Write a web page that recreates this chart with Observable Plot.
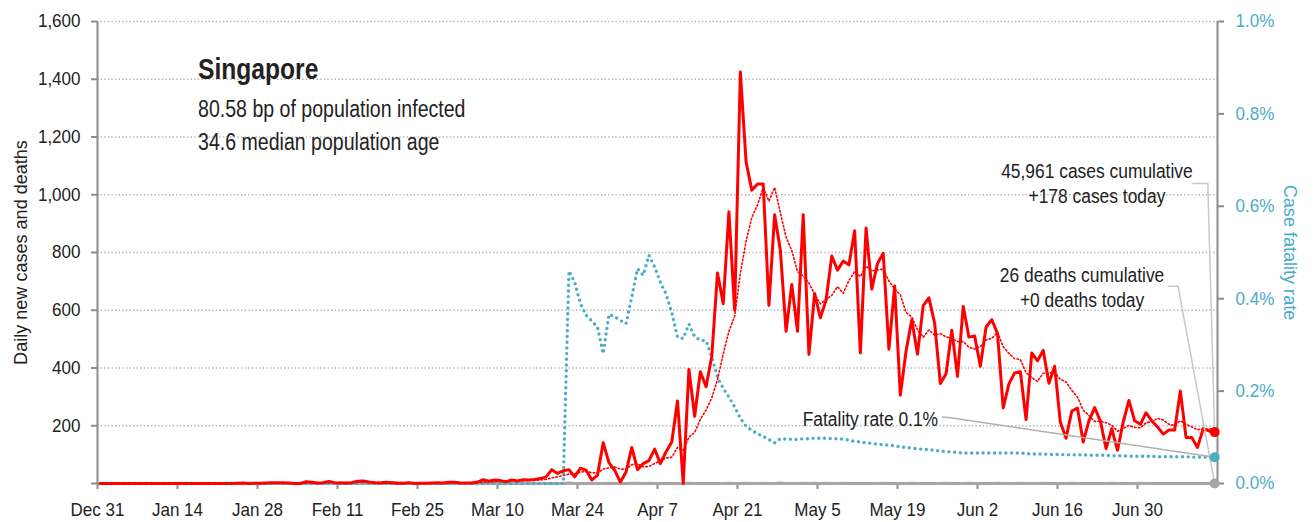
<!DOCTYPE html>
<html>
<head>
<meta charset="utf-8">
<script src="https://cdn.jsdelivr.net/npm/d3@7"></script>
<script src="https://cdn.jsdelivr.net/npm/@observablehq/plot@0.6"></script>
<style>
  html, body { margin: 0; padding: 0; background: #fff; }
  svg { display: block; }
</style>
</head>
<body>
<div id="chart"></div>
<script>
// ---------- data ----------
const country = "Singapore";
const infectedBp = 80.58;
const medianAge = 34.6;
const totalCases = 45961;
const totalDeaths = 26;

const startDate = "2019-12-31";
const endDate = "2020-07-14";
const tickDates = ["2019-12-31","2020-01-14","2020-01-28","2020-02-11","2020-02-25","2020-03-10","2020-03-24",
                   "2020-04-07","2020-04-21","2020-05-05","2020-05-19","2020-06-02","2020-06-16","2020-06-30"];
const leftTicks = [0, 200, 400, 600, 800, 1000, 1200, 1400, 1600];
const rightTicks = [0, 0.2, 0.4, 0.6, 0.8, 1.0]; // percent

const yLabel = "Daily new cases and deaths";
const y2Label = "Case fatality rate";

// daily new cases, one per day from Dec 31
const dailyCases = [
  0,0,0,0,0,0,0,0,0,0,
  0,0,0,0,0,0,0,0,0,0,
  0,0,0,0,1,2,0,1,1,2,
  3,3,3,2,0,0,6,4,2,3,
  7,3,2,2,3,8,9,5,3,2,
  4,3,1,1,3,0,1,1,2,3,
  2,4,4,2,2,2,5,13,8,12,
  10,6,12,9,13,12,14,17,23,48,
  35,44,48,23,53,46,12,29,141,72,
  46,5,40,125,48,69,79,119,69,110,
  144,286,0,395,233,387,335,441,729,623,
  941,600,1425,1114,1016,1037,1037,617,931,808,
  527,689,527,931,447,658,574,635,788,739,
  770,758,875,452,885,673,762,797,465,684,
  306,459,567,448,616,643,555,346,380,531,
  371,613,507,511,406,542,567,520,262,345,
  383,387,221,452,425,461,347,406,212,157,
  251,261,144,217,263,217,121,190,115,213,
  288,217,205,245,217,196,171,185,185,320,
  159,159,125,190,182,178
];

// daily new deaths
const dailyDeaths = [
  0,0,0,0,0,0,0,0,0,0,
  0,0,0,0,0,0,0,0,0,0,
  0,0,0,0,0,0,0,0,0,0,
  0,0,0,0,0,0,0,0,0,0,
  0,0,0,0,0,0,0,0,0,0,
  0,0,0,0,0,0,0,0,0,0,
  0,0,0,0,0,0,0,0,0,0,
  0,0,0,0,0,0,0,0,0,0,
  0,0,2,0,0,0,0,0,0,1,
  0,0,0,1,1,0,1,0,0,0,
  0,0,0,1,0,0,0,0,0,0,
  1,0,0,1,0,0,1,0,0,2,
  0,0,0,1,0,1,0,1,0,0,
  1,0,0,0,0,0,0,1,0,0,
  0,0,1,0,0,0,0,0,1,0,
  0,0,1,0,0,0,0,1,0,0,
  0,1,0,0,0,1,0,0,0,0,
  1,0,0,0,0,0,0,1,0,0,
  0,0,1,0,0,0,0,0,0,0,
  0,0,0,0,0,0
];

// case fatality rate, percent
const fatalityRate = [
  0,0,0,0,0,0,0,0,0,0,
  0,0,0,0,0,0,0,0,0,0,
  0,0,0,0,0,0,0,0,0,0,
  0,0,0,0,0,0,0,0,0,0,
  0,0,0,0,0,0,0,0,0,0,
  0,0,0,0,0,0,0,0,0,0,
  0,0,0,0,0,0,0,0,0,0,
  0,0,0,0,0,0,0,0,0,0,
  0,0,0.460,0.436,0.390,0.364,0.352,0.338,0.281,0.366,
  0.361,0.353,0.346,0.404,0.465,0.451,0.494,0.469,0.436,0.410,
  0.370,0.317,0.314,0.345,0.318,0.310,0.309,0.274,0.230,0.206,
  0.187,0.166,0.141,0.124,0.115,0.108,0.102,0.095,0.088,0.097,
  0.096,0.096,0.095,0.097,0.097,0.098,0.098,0.098,0.097,0.097,
  0.096,0.094,0.091,0.090,0.088,0.087,0.085,0.084,0.083,0.082,
  0.079,0.078,0.077,0.075,0.074,0.073,0.072,0.070,0.069,0.068,
  0.067,0.066,0.066,0.066,0.066,0.066,0.066,0.066,0.066,0.066,
  0.066,0.066,0.065,0.064,0.064,0.064,0.063,0.063,0.063,0.062,
  0.062,0.062,0.062,0.061,0.061,0.061,0.061,0.060,0.060,0.060,
  0.059,0.059,0.059,0.059,0.059,0.058,0.058,0.058,0.058,0.058,
  0.058,0.057,0.057,0.057,0.057,0.057
];

// ---------- build ----------
const RED = "#ff0000", TEAL = "#4bacc6", GRAY = "#a6a6a6", AXIS = "#8c8c8c", LEADER = "#c8c8c8", INK = "#222";
const FONT = `"Liberation Sans", Arial, sans-serif`;
const cfrScale = 1600 / 1.0; // 1.0% on the right axis == 1,600 on the left axis

// type sizes, and how much each is condensed horizontally
const SIZE_TICK = 18.5, SIZE_AXIS = 19, SIZE_TITLE = 30, SIZE_SUB = 23, SIZE_NOTE = 20;
const squeeze = { [SIZE_TICK]: 0.92, [SIZE_AXIS]: 0.95, [SIZE_TITLE]: 0.82, [SIZE_SUB]: 0.85, [SIZE_NOTE]: 0.87 };

const t0 = Date.UTC(2019, 11, 31);
const day = n => new Date(t0 + n * 864e5);
const rows = dailyCases.map((c, i) => ({
  date: new Date(Date.UTC(2019, 11, 31 + i, 12)),
  cases: c,
  deaths: dailyDeaths[i],
  cfr: fatalityRate[i]
}));
const last = rows[rows.length - 1];
const lastCfrY = last.cfr * cfrScale;

const casesNote = `${d3.format(",")(totalCases)} cases cumulative\n+${last.cases} cases today`;
const deathsNote = `${totalDeaths} deaths cumulative\n+${last.deaths} deaths today`;
const cfrNote = `Fatality rate ${last.cfr.toFixed(1)}%`;

const chart = Plot.plot({
  width: 1314,
  height: 522,
  marginLeft: 97,
  marginRight: 97,
  marginTop: 21,
  marginBottom: 39,
  style: { fontFamily: FONT, fontSize: SIZE_TICK + "px", color: INK, background: "#fff" },
  x: { type: "utc", domain: [new Date(startDate), new Date(endDate)] },
  y: { domain: [0, 1600] },
  marks: [
    // gridlines
    Plot.ruleY(leftTicks.filter(d => d > 0), { stroke: "#b4b4b4", strokeWidth: 1.3, strokeDasharray: "1.4 2.2" }),
    // axes
    Plot.axisX(tickDates.map(d => new Date(d)), {
      tickFormat: d3.utcFormat("%b %-d"), tickSize: 6, tickPadding: 13,
      stroke: AXIS, strokeWidth: 2, fill: INK, fontSize: SIZE_TICK, label: null
    }),
    Plot.axisY(leftTicks, {
      anchor: "left", tickSize: 6, tickPadding: 11,
      tickFormat: d => d === 0 ? "" : d3.format(",")(d),
      stroke: AXIS, strokeWidth: 2, fill: INK, fontSize: SIZE_TICK, label: null
    }),
    Plot.axisY(rightTicks.map(d => d * cfrScale), {
      anchor: "right", tickSize: 6, tickPadding: 12,
      tickFormat: d => (d / cfrScale).toFixed(1) + "%",
      stroke: AXIS, strokeWidth: 2, fill: TEAL, fontSize: SIZE_TICK, label: null
    }),
    Plot.ruleX([new Date(startDate)], { stroke: AXIS, strokeWidth: 2 }),
    Plot.ruleX([new Date(endDate)], { stroke: AXIS, strokeWidth: 2 }),
    Plot.ruleY([0], { stroke: AXIS, strokeWidth: 2 }),
    // axis titles
    Plot.text([yLabel], { frameAnchor: "left", dx: -77, rotate: -90, text: d => d,
      textAnchor: "middle", lineAnchor: "middle", fontSize: SIZE_AXIS, fill: INK }),
    Plot.text([y2Label], { frameAnchor: "right", dx: 73, rotate: 90, text: d => d,
      textAnchor: "middle", lineAnchor: "middle", fontSize: SIZE_AXIS, fill: TEAL }),
    // series
    Plot.lineY(rows, { x: "date", y: "deaths", stroke: GRAY, strokeWidth: 3 }),
    Plot.lineY(rows, { x: "date", y: d => d.cfr * cfrScale, stroke: TEAL, strokeWidth: 3.4,
      strokeDasharray: "0 5.7", strokeLinecap: "round" }),
    Plot.lineY(rows, Plot.windowY({ k: 7, anchor: "end", reduce: "mean" },
      { x: "date", y: "cases", stroke: RED, strokeWidth: 1.6, strokeDasharray: "1.5 2.3" })),
    Plot.lineY(rows, { x: "date", y: "cases", stroke: RED, strokeWidth: 3, strokeLinejoin: "round" }),
    // leader lines
    Plot.line([{ x: day(191.7), y: 1039 }, { x: day(194.3), y: 1039 }, { x: last.date, y: last.cases }],
      { x: "x", y: "y", stroke: LEADER, strokeWidth: 1.5 }),
    Plot.line([{ x: day(187.5), y: 683 }, { x: day(189.1), y: 683 }, { x: last.date, y: last.deaths }],
      { x: "x", y: "y", stroke: LEADER, strokeWidth: 1.5 }),
    Plot.line([{ x: day(147.9), y: 230 }, { x: day(149.6), y: 227 }, { x: last.date, y: lastCfrY }],
      { x: "x", y: "y", stroke: "#b0b0b0", strokeWidth: 1.5 }),
    // end markers
    Plot.dot([last], { x: "date", y: "deaths", r: 5, fill: GRAY }),
    Plot.dot([last], { x: "date", y: d => d.cfr * cfrScale, r: 5, fill: TEAL }),
    Plot.dot([last], { x: "date", y: "cases", r: 5, fill: RED }),
    // annotations
    Plot.text([{ x: day(17.6), y: 1402, t: country }], { x: "x", y: "y", text: "t",
      textAnchor: "start", lineAnchor: "bottom", fontSize: SIZE_TITLE, fontWeight: "bold", fill: INK }),
    Plot.text([{ x: day(17.6), y: 1270, t: `${infectedBp} bp of population infected` }], { x: "x", y: "y", text: "t",
      textAnchor: "start", lineAnchor: "bottom", fontSize: SIZE_SUB, fill: INK }),
    Plot.text([{ x: day(17.6), y: 1154, t: `${medianAge} median population age` }], { x: "x", y: "y", text: "t",
      textAnchor: "start", lineAnchor: "bottom", fontSize: SIZE_SUB, fill: INK }),
    Plot.text([{ x: day(174.9), y: 971, t: casesNote }], { x: "x", y: "y", text: "t",
      textAnchor: "middle", lineAnchor: "bottom", lineHeight: 1.25, fontSize: SIZE_NOTE, fill: INK }),
    Plot.text([{ x: day(172.3), y: 611, t: deathsNote }], { x: "x", y: "y", text: "t",
      textAnchor: "middle", lineAnchor: "bottom", lineHeight: 1.25, fontSize: SIZE_NOTE, fill: INK }),
    Plot.text([{ x: day(147.1), y: 198, t: cfrNote }], { x: "x", y: "y", text: "t",
      textAnchor: "end", lineAnchor: "bottom", fontSize: SIZE_NOTE, fill: INK })
  ]
});
document.getElementById("chart").appendChild(chart);

// condense the type horizontally, like the narrow face of the original
chart.querySelectorAll("text").forEach(t => {
  const f = squeeze[parseFloat(getComputedStyle(t).fontSize)] ?? 0.92;
  const parts = Array.from(t.querySelectorAll("tspan"));
  (parts.length ? parts : [t]).forEach(el => {
    const len = el.getComputedTextLength();
    if (len > 0) {
      el.setAttribute("textLength", (len * f).toFixed(2));
      el.setAttribute("lengthAdjust", "spacingAndGlyphs");
    }
  });
});
</script>
</body>
</html>
